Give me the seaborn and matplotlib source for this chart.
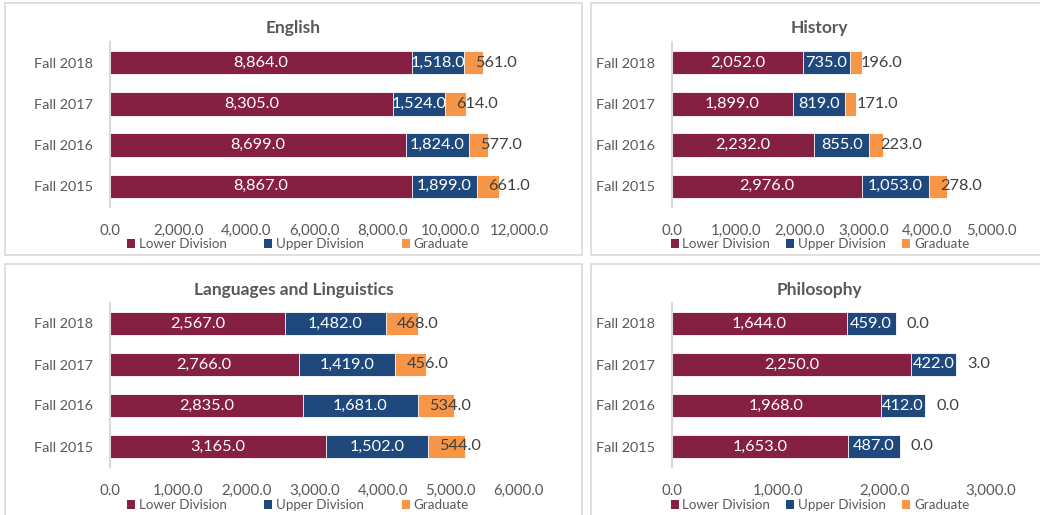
import matplotlib
matplotlib.use("Agg")
import matplotlib.pyplot as plt
import pandas as pd
import seaborn as sns
from matplotlib.patches import Rectangle, Patch
from matplotlib.ticker import FuncFormatter, MultipleLocator

# ---- data -------------------------------------------------------------
terms = ["Fall 2018", "Fall 2017", "Fall 2016", "Fall 2015"]
series = ["Lower Division", "Upper Division", "Graduate"]

english_lower = [8864, 8305, 8699, 8867]
english_upper = [1518, 1524, 1824, 1899]
english_grad = [561, 614, 577, 661]

history_lower = [2052, 1899, 2232, 2976]
history_upper = [735, 819, 855, 1053]
history_grad = [196, 171, 223, 278]

languages_lower = [2567, 2766, 2835, 3165]
languages_upper = [1482, 1419, 1681, 1502]
languages_grad = [468, 456, 534, 544]

philosophy_lower = [1644, 2250, 1968, 1653]
philosophy_upper = [459, 422, 412, 487]
philosophy_grad = [0, 3, 0, 0]

# ---- style ------------------------------------------------------------
COLORS = {"Lower Division": "#862042", "Upper Division": "#1F497D", "Graduate": "#F79646"}
TEXT = "#595959"
GRID = "#D9D9D9"

sns.set_theme(style="white")
plt.rcParams["font.family"] = ["Lato", "DejaVu Sans"]

W, H = 1040, 515
fig = plt.figure(figsize=(W / 100, H / 100), dpi=100)


def fx(px):
    return px / W


def fy(py):
    return 1 - py / H


panels = [
    dict(title="English", lower=english_lower, upper=english_upper, grad=english_grad,
         xmax=12000, step=2000, plot=(110, 42, 519, 207), box=(5, 3, 582, 255),
         title_y=28, legend_y=244, legend_x=298, legend_gap=2.8),
    dict(title="History", lower=history_lower, upper=history_upper, grad=history_grad,
         xmax=5000, step=1000, plot=(672, 42, 991, 207), box=(591, 3, 1047, 255),
         title_y=28, legend_y=244, legend_x=820, legend_gap=1.2),
    dict(title="Languages and Linguistics", lower=languages_lower, upper=languages_upper,
         grad=languages_grad, xmax=6000, step=1000, plot=(110, 303, 519, 467),
         box=(5, 264, 582, 520), title_y=290, legend_y=505, legend_x=298, legend_gap=2.8),
    dict(title="Philosophy", lower=philosophy_lower, upper=philosophy_upper,
         grad=philosophy_grad, xmax=3000, step=1000, plot=(672, 303, 991, 467),
         box=(591, 264, 1047, 520), title_y=290, legend_y=505, legend_x=820,
         legend_gap=1.2),
]

fmt = FuncFormatter(lambda v, _: f"{v:,.1f}")

for p in panels:
    # panel frame
    x0, y0, x1, y1 = p["box"]
    fig.patches.append(Rectangle((fx(x0), fy(y1)), fx(x1 - x0), (y1 - y0) / H,
                                 transform=fig.transFigure, fill=False,
                                 edgecolor=GRID, linewidth=1.2, zorder=0))
    cx = (x0 + x1) / 2

    l, t, r, b = p["plot"]
    ax = fig.add_axes([fx(l), fy(b), fx(r - l), (b - t) / H])

    df = pd.DataFrame({"term": terms, "Lower Division": p["lower"],
                       "Upper Division": p["upper"], "Graduate": p["grad"]})
    df["lu"] = df["Lower Division"] + df["Upper Division"]
    df["total"] = df["lu"] + df["Graduate"]

    # stacked bars drawn as cumulative layers
    for col, color in [("total", COLORS["Graduate"]), ("lu", COLORS["Upper Division"]),
                       ("Lower Division", COLORS["Lower Division"])]:
        sns.barplot(data=df, x=col, y="term", order=terms, orient="h", color=color,
                    width=0.57, saturation=1, edgecolor="white", linewidth=0.6, ax=ax)

    for i, row in df.iterrows():
        lo, up, gr = row["Lower Division"], row["Upper Division"], row["Graduate"]
        ax.text(lo / 2, i, f"{lo:,.1f}", ha="center", va="center", color="white",
                fontsize=11.8)
        ax.text(lo + up / 2, i, f"{up:,.1f}", ha="center", va="center", color="white",
                fontsize=11.8)
        ax.annotate(f"{gr:,.1f}", xy=(lo + up, i), xytext=(8, 0),
                    textcoords="offset points", ha="left", va="center",
                    color="#404040", fontsize=11.8)

    ax.set_xlim(0, p["xmax"])
    ax.set_ylim(3.5, -0.5)
    ax.xaxis.set_major_locator(MultipleLocator(p["step"]))
    ax.xaxis.set_major_formatter(fmt)
    ax.set_xlabel("")
    ax.set_ylabel("")
    ax.tick_params(axis="both", length=0, colors=TEXT)
    ax.tick_params(axis="x", pad=12, labelsize=10.8)
    ax.tick_params(axis="y", pad=12, labelsize=10.4)
    for side in ["top", "right", "bottom"]:
        ax.spines[side].set_visible(False)
    ax.spines["left"].set_color(GRID)
    ax.spines["left"].set_linewidth(1.5)
    ax.set_facecolor("none")

    fig.text(fx(cx), fy(p["title_y"]), p["title"], ha="center", va="center",
             fontsize=12.5, fontweight="bold", color=TEXT)

    handles = [Patch(facecolor=COLORS[s], edgecolor="none") for s in series]
    fig.legend(handles, series, loc="center",
               bbox_to_anchor=(fx(p["legend_x"]), fy(p["legend_y"])),
               ncol=3, frameon=False, fontsize=9.6, handlelength=0.6, handleheight=0.6,
               handletextpad=0.3, columnspacing=p["legend_gap"], labelcolor=TEXT,
               borderpad=0, borderaxespad=0)

fig.savefig("out.png", dpi=100, facecolor="white")
